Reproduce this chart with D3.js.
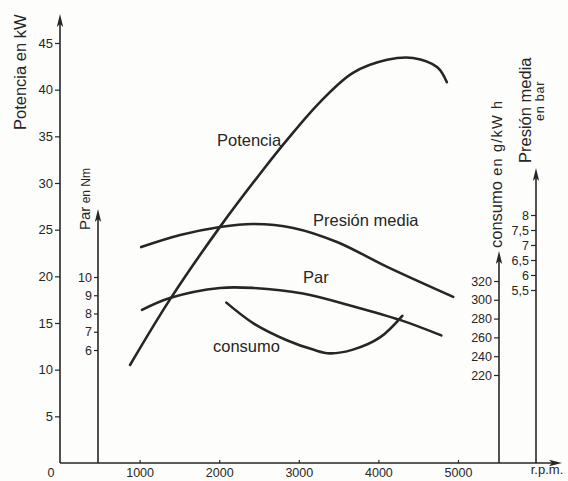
<!DOCTYPE html>
<html>
<head>
<meta charset="utf-8">
<script src="https://cdn.jsdelivr.net/npm/d3@7"></script>
<style>
  html, body { margin: 0; padding: 0; background: #fdfdfb; }
  svg { display: block; font-family: "Liberation Sans", Arial, Helvetica, sans-serif; }
</style>
</head>
<body>
<svg id="chart" width="568" height="481"></svg>
<script>
// Engine characteristic curves against engine speed
const rpmTicks      = [1000, 2000, 3000, 4000, 5000];
const kwTicks       = [5, 10, 15, 20, 25, 30, 35, 40, 45];
const parTicks      = [6, 7, 8, 9, 10];
const consumoTicks  = [220, 240, 260, 280, 300, 320];
const presionTicks  = [5.5, 6, 6.5, 7, 7.5, 8];

// Potencia (kW)
const potenciaRpm = [880, 1380, 2010, 2550, 2850, 3270, 3680, 4110, 4435, 4740, 4860];
const potenciaKw  = [10.5, 17.5, 25.3, 31.4, 34.6, 38.7, 41.8, 43.2, 43.4, 42.4, 40.8];

// Par (Nm)
const parRpm = [1030, 1380, 2010, 2430, 3050, 3680, 4270, 4790];
const parNm  = [8.2, 8.85, 9.4, 9.4, 9.1, 8.4, 7.65, 6.8];

// Presión media (bar)
const presionRpm = [1020, 1510, 2010, 2430, 2930, 3480, 4110, 4940];
const presionBar = [6.93, 7.33, 7.6, 7.7, 7.57, 7.1, 6.27, 5.27];

// Consumo específico (g/kW h)
const consumoRpm = [2090, 2430, 2850, 3180, 3390, 3680, 4020, 4300];
const consumoG   = [297, 275, 257, 247, 243, 247, 260, 283];

const ink = "#262626";
const svg = d3.select("#chart");

const x = d3.scaleLinear().domain([0, 5000]).range([60, 458]);
const yKw = d3.scaleLinear().domain([0, 45]).range([463, 43]);
const yPar = d3.scaleLinear().domain([6, 10]).range([350, 277]);
const yCons = d3.scaleLinear().domain([220, 320]).range([375, 281]);
const yBar = d3.scaleLinear().domain([5.5, 8]).range([290, 215]);

const baseY = yKw(0);
const parX = 98, consX = 499, presX = 536;

// axis lines with arrowheads
function arrowUp(px, tipY) {
  svg.append("line").attr("x1", px).attr("x2", px).attr("y1", baseY).attr("y2", tipY + 6)
    .attr("stroke", ink).attr("stroke-width", 1.6);
  svg.append("path")
    .attr("d", `M${px},${tipY} L${px + 3.2},${tipY + 13} L${px},${tipY + 10} L${px - 3.2},${tipY + 13} Z`)
    .attr("fill", ink);
}
arrowUp(x(0), 14);
arrowUp(parX, 209);
arrowUp(consX, 251);
arrowUp(presX, 168);

// horizontal axis
svg.append("line").attr("x1", x(0)).attr("x2", 556).attr("y1", baseY).attr("y2", baseY)
  .attr("stroke", ink).attr("stroke-width", 1.6);
svg.append("path")
  .attr("d", `M562,${baseY} L549,${baseY - 3.2} L552,${baseY} L549,${baseY + 3.2} Z`)
  .attr("fill", ink);

function styleAxis(g, size) {
  g.select(".domain").remove();
  g.selectAll(".tick line").attr("stroke", ink).attr("stroke-width", 1.2);
  g.selectAll(".tick text").attr("fill", ink).attr("font-size", size)
    .attr("font-family", "'Liberation Sans', Arial, sans-serif");
}

const plain = d => String(d);
const comma = d => String(d).replace(".", ",");

svg.append("g").attr("transform", `translate(${x(0)},0)`)
  .call(d3.axisLeft(yKw).tickValues(kwTicks).tickFormat(plain).tickSize(5).tickPadding(2))
  .call(g => styleAxis(g, 13));

svg.append("g").attr("transform", `translate(${parX},0)`)
  .call(d3.axisLeft(yPar).tickValues(parTicks).tickFormat(plain).tickSize(4).tickPadding(2))
  .call(g => styleAxis(g, 12.5));

svg.append("g").attr("transform", `translate(${consX},0)`)
  .call(d3.axisLeft(yCons).tickValues(consumoTicks).tickFormat(plain).tickSize(5).tickPadding(2))
  .call(g => styleAxis(g, 12.5));

svg.append("g").attr("transform", `translate(${presX},0)`)
  .call(d3.axisLeft(yBar).tickValues(presionTicks).tickFormat(comma).tickSize(5).tickPadding(2))
  .call(g => styleAxis(g, 12.5));

svg.append("g").attr("transform", `translate(0,${baseY})`)
  .call(d3.axisBottom(x).tickValues(rpmTicks).tickFormat(plain).tickSize(-3).tickPadding(5))
  .call(g => styleAxis(g, 12.5));

svg.append("text").attr("x", x(0) - 9).attr("y", 477).attr("text-anchor", "middle")
  .attr("font-size", 12.5).attr("fill", ink).text("0");
svg.append("text").attr("x", 547).attr("y", 474).attr("text-anchor", "middle")
  .attr("font-size", 13).attr("fill", ink).text("r.p.m.");

// rotated axis titles
function vTitle(px, py, parts) {
  const t = svg.append("text").attr("transform", `translate(${px},${py}) rotate(-90)`)
    .attr("fill", ink);
  parts.forEach(p => {
    const s = t.append("tspan").attr("font-size", p.size).text(p.text);
    if (p.ls) s.attr("letter-spacing", p.ls);
  });
}
vTitle(26, 130, [{ text: "Potencia en kW", size: 16.5 }]);
vTitle(90, 230, [{ text: "Par", size: 15 }, { text: " en Nm", size: 12 }]);
vTitle(502, 248, [{ text: "consumo", size: 16.5 }, { text: " en g/kW h", size: 14.5, ls: 1.2 }]);
vTitle(531, 163, [{ text: "Presión media", size: 16.5 }]);
vTitle(544, 121, [{ text: "en bar", size: 12.5, ls: 0.8 }]);

// curves
const line = (xs, ys, yScale) => d3.line()
  .x((d, i) => x(xs[i]))
  .y((d, i) => yScale(ys[i]))
  .curve(d3.curveCatmullRom.alpha(0.5))(xs);

const curves = [
  [potenciaRpm, potenciaKw, yKw],
  [parRpm, parNm, yPar],
  [presionRpm, presionBar, yBar],
  [consumoRpm, consumoG, yCons]
];
curves.forEach(([xs, ys, sc]) => {
  svg.append("path").attr("d", line(xs, ys, sc))
    .attr("fill", "none").attr("stroke", ink).attr("stroke-width", 2.6)
    .attr("stroke-linecap", "round");
});

// curve labels
const labels = [
  { text: "Potencia", x: 217, y: 146 },
  { text: "Presión media", x: 313, y: 226 },
  { text: "Par", x: 303, y: 283 },
  { text: "consumo", x: 213, y: 352 }
];
svg.selectAll("text.lbl").data(labels).join("text").attr("class", "lbl")
  .attr("x", d => d.x).attr("y", d => d.y)
  .attr("font-size", 16.5).attr("fill", ink).text(d => d.text);
</script>
</body>
</html>
